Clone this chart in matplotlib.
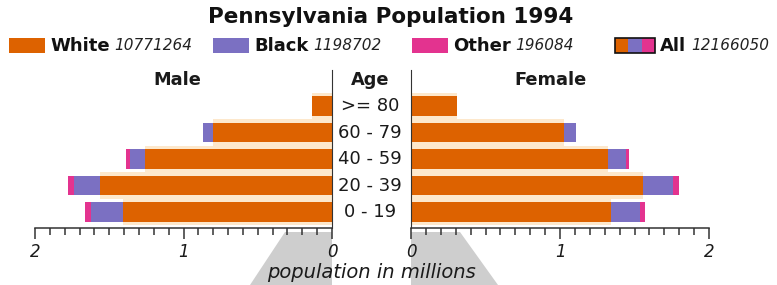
import matplotlib
matplotlib.use("Agg")
import matplotlib.pyplot as plt
import matplotlib.transforms as mtransforms
import numpy as np
from matplotlib.patches import Rectangle, Polygon

# ---- data (millions) ----
ages = ["0 - 19", "20 - 39", "40 - 59", "60 - 79", ">= 80"]
male_white = [1.41, 1.56, 1.26, 0.80, 0.135]
male_black = [0.21, 0.18, 0.10, 0.07, 0.0]
male_other = [0.04, 0.04, 0.03, 0.0, 0.0]
female_white = [1.34, 1.56, 1.32, 1.03, 0.31]
female_black = [0.20, 0.20, 0.12, 0.08, 0.0]
female_other = [0.03, 0.04, 0.02, 0.0, 0.0]
legend_names = ["White", "Black", "Other", "All"]
legend_totals = ["10771264", "1198702", "196084", "12166050"]
title = "Pennsylvania Population 1994"

C_WHITE = "#dd6200"
C_BLACK = "#7b70c2"
C_OTHER = "#e3338f"
C_CREAM = "#fde8cc"
FONT = "DejaVu Sans"
TXT = "#1a1a1a"

W, H = 777, 285
fig = plt.figure(figsize=(W / 100, H / 100), dpi=100)

def fx(px):
    return px / W

def fy(py):
    return 1 - py / H

# gray background beams (behind everything)
for pts in ([(285, 232), (332, 232), (332, 285), (250, 285)],
            [(411, 232), (460, 232), (498, 285), (411, 285)]):
    fig.patches.append(Polygon([(fx(a), fy(b)) for a, b in pts], closed=True,
                               transform=fig.transFigure, facecolor="#cecece",
                               edgecolor="none", zorder=-5))

ax_bot, ax_top = 228, 70
axL = fig.add_axes([fx(35), fy(ax_bot), fx(332) - fx(35), fy(ax_top) - fy(ax_bot)])
axR = fig.add_axes([fx(411), fy(ax_bot), fx(709) - fx(411), fy(ax_top) - fy(ax_bot)])
for a in (axL, axR):
    a.patch.set_alpha(0)
    a.set_zorder(2)

y = np.arange(len(ages))
h = 0.73

def draw(ax, white, black, other):
    w = np.array(white); b = np.array(black); o = np.array(other)
    ax.barh(y, w, height=1.0, color=C_CREAM, edgecolor="none", zorder=1)
    ax.barh(y, w, height=h, color=C_WHITE, edgecolor="none", zorder=2)
    ax.barh(y, b, left=w, height=h, color=C_BLACK, edgecolor="none", zorder=3)
    ax.barh(y, o, left=w + b, height=h, color=C_OTHER, edgecolor="none", zorder=3)
    ax.set_xlim(0, 2)
    ax.set_ylim(-0.6, 5.36)
    ax.set_yticks([])
    ax.set_xticks([0, 1, 2])
    ax.set_xticks(np.arange(0, 2.01, 0.1), minor=True)
    ax.tick_params(axis="x", which="major", length=8, width=1.1, color="#333333", pad=3)
    ax.tick_params(axis="x", which="minor", length=5, width=1.1, color="#333333")
    ax.spines["top"].set_visible(False)
    ax.spines["bottom"].set_color("#333333")
    ax.spines["bottom"].set_linewidth(1.1)
    for lab in ax.get_xticklabels():
        lab.set_fontstyle("italic")
        lab.set_fontsize(12)
        lab.set_family(FONT)
        lab.set_color(TXT)

draw(axL, male_white, male_black, male_other)
axL.invert_xaxis()
axL.spines["left"].set_visible(False)
axL.spines["right"].set_color("#333333")
draw(axR, female_white, female_black, female_other)
axR.spines["right"].set_visible(False)
axR.spines["left"].set_color("#333333")

# age labels in the middle
mid_tr = mtransforms.blended_transform_factory(fig.transFigure, axL.transData)
for i, lab in enumerate(ages):
    axL.text(fx(370), y[i], lab, transform=mid_tr, ha="center", va="center",
             fontsize=13, family=FONT, color=TXT, clip_on=False)

# headers
fig.text(fx(177), fy(80), "Male", ha="center", va="center", fontsize=12.8, fontweight="bold", family=FONT, color=TXT)
fig.text(fx(370), fy(80), "Age", ha="center", va="center", fontsize=12.8, fontweight="bold", family=FONT, color=TXT)
fig.text(fx(551), fy(80), "Female", ha="center", va="center", fontsize=12.8, fontweight="bold", family=FONT, color=TXT)

# title
fig.text(fx(391), fy(17), title, ha="center", va="center", fontsize=15.5, fontweight="bold", family=FONT, color="#111111")

# x label
fig.text(fx(371), fy(272), "population in millions", ha="center", va="center", fontsize=14,
         fontstyle="italic", family=FONT, color=TXT)

# legend
patch_x = [9, 213, 412, 615]
ly0, ly1 = 38, 53
for i, (name, tot) in enumerate(zip(legend_names, legend_totals)):
    x0 = patch_x[i]
    pw = 36 if i < 3 else 40
    if i < 3:
        col = [C_WHITE, C_BLACK, C_OTHER][i]
        fig.patches.append(Rectangle((fx(x0), fy(ly1)), fx(pw), fy(ly0) - fy(ly1), transform=fig.transFigure,
                                     facecolor=col, edgecolor="none"))
    else:
        for j, col in enumerate([C_WHITE, C_BLACK, C_OTHER]):
            fig.patches.append(Rectangle((fx(x0 + j * pw / 3), fy(ly1)), fx(pw / 3), fy(ly0) - fy(ly1),
                                         transform=fig.transFigure, facecolor=col, edgecolor="none"))
        fig.patches.append(Rectangle((fx(x0), fy(ly1)), fx(pw), fy(ly0) - fy(ly1), transform=fig.transFigure,
                                     facecolor="none", edgecolor="#111111", linewidth=1.2))
    t = fig.text(fx(x0 + pw + 5), fy(45.5), name, ha="left", va="center", fontsize=13, fontweight="bold",
                 family=FONT, color="#111111")
    fig.canvas.draw()
    bb = t.get_window_extent()
    fig.text(bb.x1 / W + fx(5), fy(45.5), tot, ha="left", va="center", fontsize=11, fontstyle="italic",
             family=FONT, color="#222222")

fig.savefig("out.png", dpi=100)
